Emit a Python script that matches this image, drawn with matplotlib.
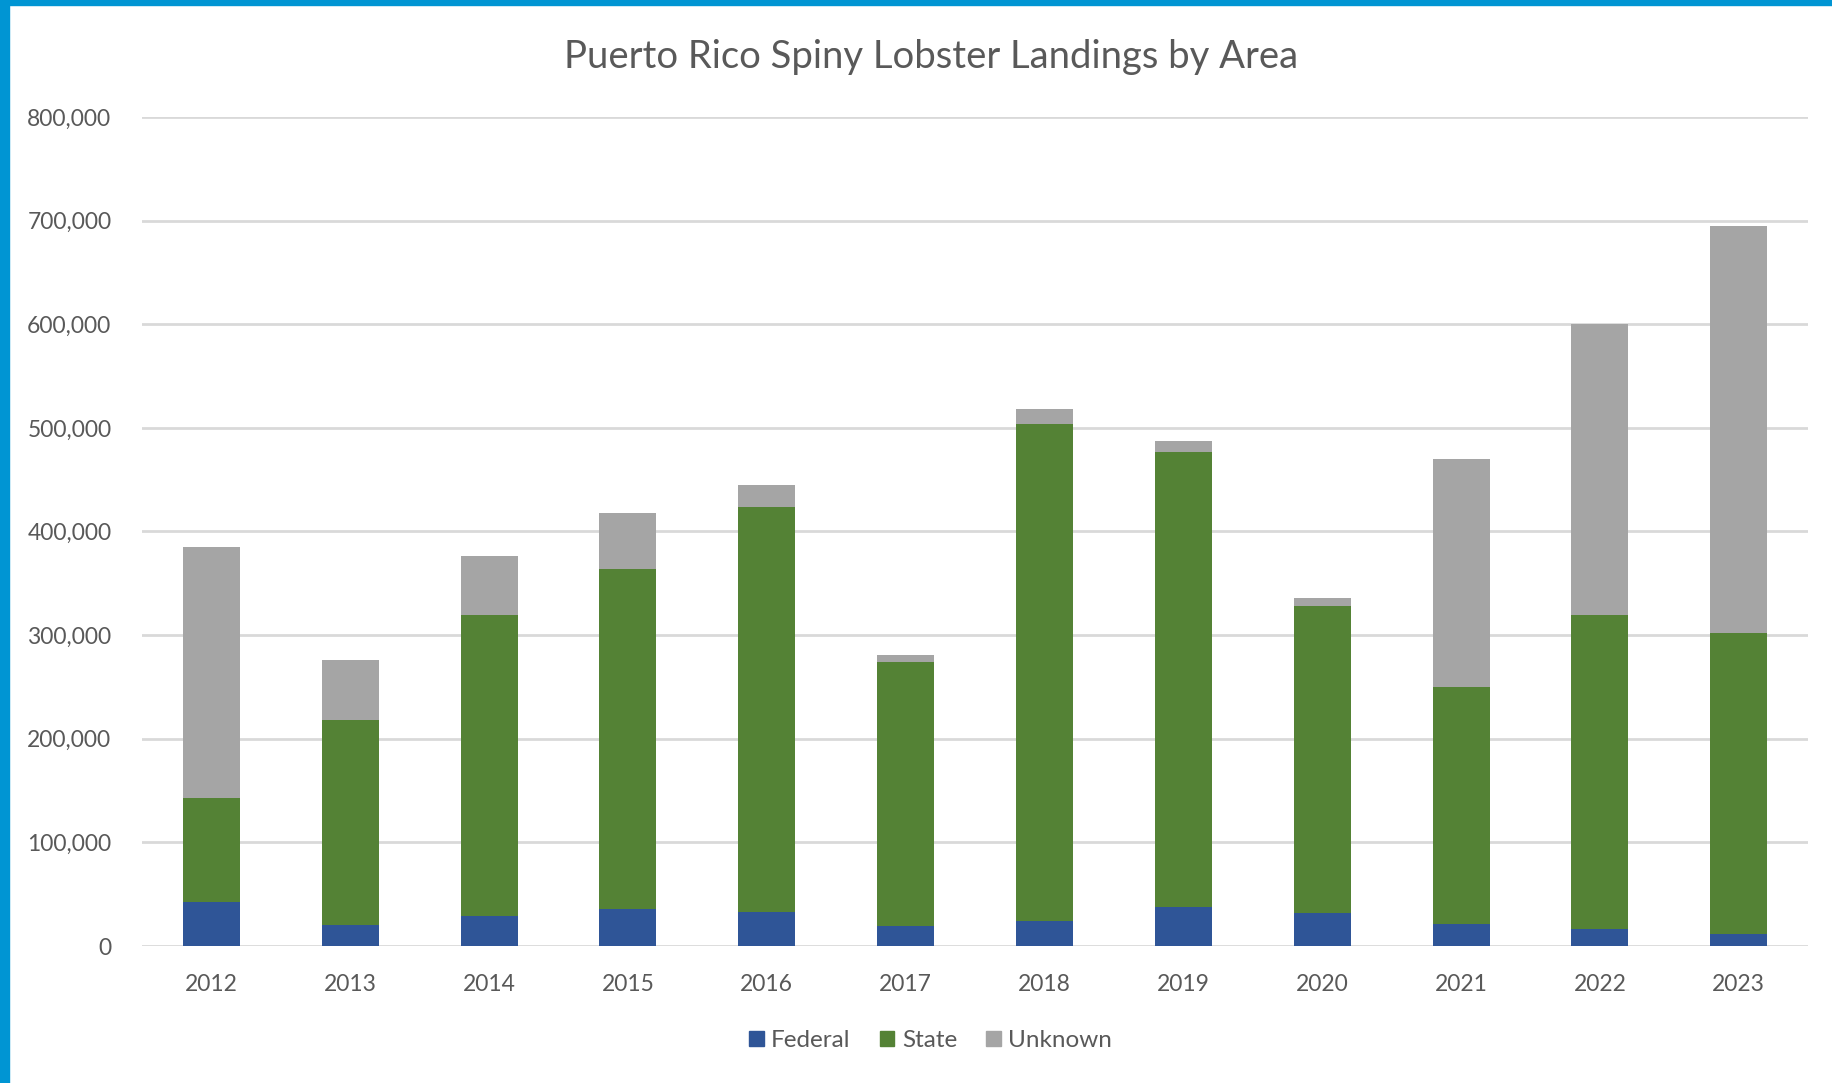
import matplotlib
matplotlib.use("Agg")
import matplotlib.pyplot as plt
from matplotlib.patches import Rectangle, Patch
import numpy as np

years = ['2012', '2013', '2014', '2015', '2016', '2017', '2018', '2019', '2020', '2021', '2022', '2023']
federal = [42500, 20000, 28500, 35500, 33000, 19000, 24000, 38000, 31500, 21500, 16000, 12000]
state = [100500, 198000, 290500, 328500, 391000, 255000, 480000, 439000, 296500, 228500, 303000, 290000]
unknown = [242000, 58000, 57000, 54000, 21000, 7000, 14000, 10000, 8000, 220000, 281000, 393000]

plt.rcParams['font.family'] = ['Lato', 'DejaVu Sans']
txt = '#595959'

fig = plt.figure(figsize=(18.32, 10.83), dpi=100)
ax = fig.add_axes([0.0775, 0.1265, 0.9095, 0.7655])

x = np.arange(len(years))
fed = np.array(federal)
st = np.array(state)
unk = np.array(unknown)
w = 0.41
ax.bar(x, fed, w, color='#2F5597', label='Federal', zorder=3)
ax.bar(x, st, w, bottom=fed, color='#548235', label='State', zorder=3)
ax.bar(x, unk, w, bottom=fed + st, color='#A5A5A5', label='Unknown', zorder=3)

ax.set_xlim(-0.5, len(years) - 0.5)
ax.set_ylim(0, 800000)
ax.set_yticks(np.arange(0, 800001, 100000))
ax.set_yticklabels([f'{v:,}' for v in range(0, 800001, 100000)])
ax.set_xticks(x)
ax.set_xticklabels(years)
ax.grid(axis='y', color='#D9D9D9', lw=2, zorder=0)
for s in ax.spines.values():
    s.set_visible(False)
ax.tick_params(axis='both', length=0, labelsize=16.5, labelcolor=txt)
ax.tick_params(axis='y', pad=22)
ax.tick_params(axis='x', pad=20)

fig.text(0.508, 0.947, 'Puerto Rico Spiny Lobster Landings by Area', ha='center', va='center',
         fontsize=27.5, color=txt)

handles = [Patch(color='#2F5597'), Patch(color='#548235'), Patch(color='#A5A5A5')]
fig.legend(handles, ['Federal', 'State', 'Unknown'], loc='center', bbox_to_anchor=(0.508, 0.039),
           ncol=3, frameon=False, fontsize=17.5, labelcolor=txt, handlelength=0.6, handleheight=0.6,
           handletextpad=0.3, columnspacing=1.2)

# blue frame on the left and top
fig.patches.append(Rectangle((0, 0), 0.005, 1, transform=fig.transFigure, color='#0095D3', zorder=10))
fig.patches.append(Rectangle((0, 0.995), 1, 0.005, transform=fig.transFigure, color='#0095D3', zorder=10))

fig.savefig('out.png', dpi=100)
